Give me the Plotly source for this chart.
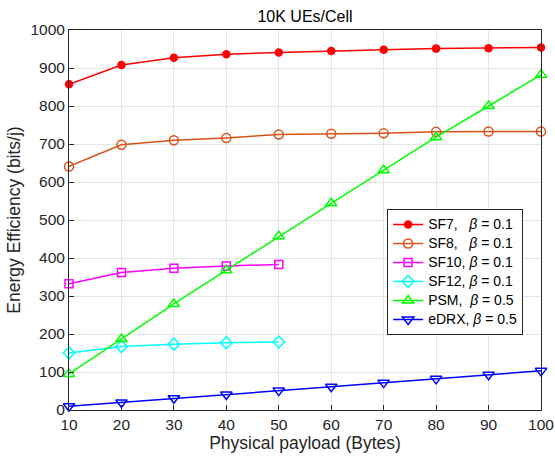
import plotly.graph_objects as go

x_full = [10, 20, 30, 40, 50, 60, 70, 80, 90, 100]
x_half = [10, 20, 30, 40, 50]
sf7 = [857, 908, 927, 936, 941, 945, 948, 951, 952, 954]
sf8 = [641, 698, 710, 716, 725, 727, 728, 732, 733, 733]
sf10 = [332, 362, 373, 379, 383]
sf12 = [150, 167, 173, 177, 179]
psm = [95, 187, 279, 368, 457, 544, 631, 718, 800, 882]
edrx = [10, 20, 31, 41, 51, 61, 72, 82, 93, 103]
y_ticks = [0, 100, 200, 300, 400, 500, 600, 700, 800, 900, 1000]

series = [
    ("SF7,   <i>β</i> = 0.1", x_full, sf7, "#ff0000", "circle", 7),
    ("SF8,   <i>β</i> = 0.1", x_full, sf8, "#d95319", "circle-open", 9),
    ("SF10, <i>β</i> = 0.1", x_half, sf10, "#ff00ff", "square-open", 8),
    ("SF12, <i>β</i> = 0.1", x_half, sf12, "#00ffff", "diamond-open", 9),
    ("PSM,  <i>β</i> = 0.5", x_full, psm, "#00ff00", "triangle-up-open", 10),
    ("eDRX, <i>β</i> = 0.5", x_full, edrx, "#0000ff", "triangle-down-open", 10),
]

fig = go.Figure()
for name, xs, ys, color, sym, size in series:
    fig.add_trace(go.Scatter(
        x=xs, y=ys, name='<span style="font-size:14px">' + name + '</span>',
        mode="lines+markers",
        line=dict(color=color, width=1.5),
        marker=dict(symbol=sym, size=size, color=color, line=dict(color=color, width=1.5)),
        cliponaxis=False,
    ))

axis_common = dict(
    showline=True, mirror=True, linecolor="#262626", linewidth=1,
    ticks="inside", ticklen=5, tickcolor="#262626",
    showgrid=True, gridcolor="#e5e5e5", gridwidth=1, zeroline=False,
    tickfont=dict(size=15.5, color="#262626"), automargin=False,
)

fig.update_layout(
    width=555, height=464,
    margin=dict(l=69, r=14, t=30, b=54),
    paper_bgcolor="white", plot_bgcolor="white",
    font=dict(family="Liberation Sans, Arial, sans-serif", color="#262626"),
    title=dict(text="10K UEs/Cell", x=0.5, xref="paper", xanchor="center",
               y=1 - 16 / 464, yref="container", yanchor="middle",
               font=dict(size=16, color="#000000")),
    xaxis=dict(range=[10, 100], tickvals=x_full,
               title=dict(text="Physical payload (Bytes)", font=dict(size=17.5), standoff=3),
               **axis_common),
    yaxis=dict(range=[0, 1000], tickvals=y_ticks,
               title=dict(text="Energy Efficiency (bits/j)", font=dict(size=17.5), standoff=5),
               **axis_common),
    legend=dict(x=0.674, y=0.529, xanchor="left", yanchor="top",
                bgcolor="white", bordercolor="#262626", borderwidth=1,
                font=dict(size=12, color="#000000"), tracegroupgap=0),
    showlegend=True,
)

fig.write_html(
    "out.html",
    config={"displayModeBar": False},
    post_script="document.body.style.margin='0';document.body.style.overflow='hidden';",
)
